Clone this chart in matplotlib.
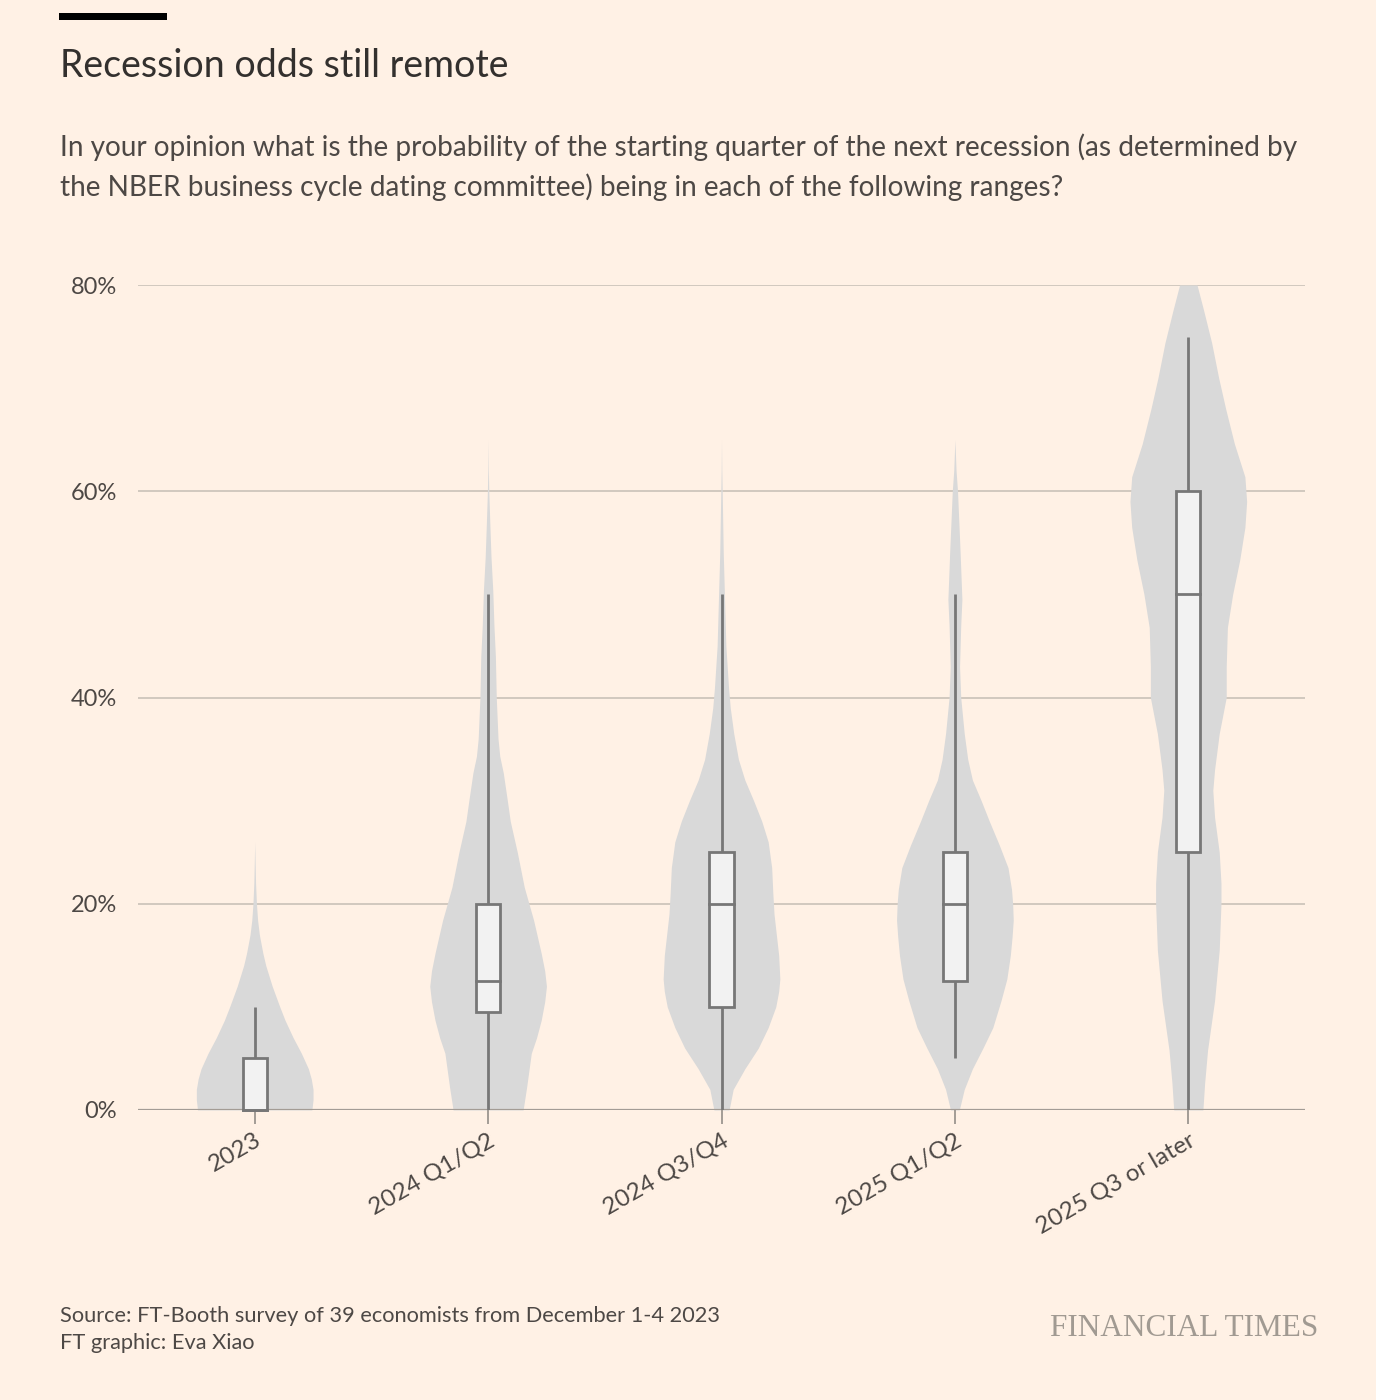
import numpy as np
import matplotlib
matplotlib.use("Agg")
import matplotlib.pyplot as plt
from matplotlib.patches import Rectangle

# categories and box stats (percent)
categories = ["2023", "2024 Q1/Q2", "2024 Q3/Q4", "2025 Q1/Q2", "2025 Q3 or later"]
whisker_lo = [0, 0, 0, 5, 0]
q1 = [0, 9.5, 10, 12.5, 25]
median = [0, 12.5, 20, 20, 50]
q3 = [5, 20, 25, 25, 60]
whisker_hi = [10, 50, 50, 50, 75]

# violin outlines: level (%) and relative density (0-1)
v2023_y = [0, 1, 2, 3, 4, 5.5, 7, 8.7, 10, 12, 14, 15.2, 17, 18.4, 20, 22, 24, 26]
v2023_d = [0.98, 1.0, 1.0, 0.97, 0.92, 0.8, 0.66, 0.52, 0.43, 0.3, 0.19, 0.14, 0.08, 0.05, 0.03, 0.015, 0.007, 0]

vq1_y = [0, 2.2, 5.5, 7, 8.7, 10.5, 12, 13.5, 15.2, 18.4, 21.6, 25, 28, 30, 32.7, 34.3, 36, 40, 44, 47, 50.4, 53.6, 56.8, 60, 62, 65]
vq1_d = [0.6, 0.66, 0.74, 0.83, 0.91, 0.97, 1.0, 0.97, 0.91, 0.78, 0.62, 0.5, 0.38, 0.33, 0.26, 0.2, 0.17, 0.14, 0.125, 0.1, 0.08, 0.05, 0.03, 0.012, 0.005, 0]

vq3_y = [0, 2, 4, 6, 8, 10, 11.5, 12.7, 15, 17, 19, 21, 23.5, 26, 28, 30, 32, 34, 36.5, 39, 41, 45, 50, 54, 60, 62, 65]
vq3_d = [0.13, 0.2, 0.4, 0.63, 0.8, 0.93, 0.98, 1.0, 0.98, 0.94, 0.9, 0.88, 0.86, 0.8, 0.69, 0.55, 0.4, 0.29, 0.21, 0.15, 0.12, 0.075, 0.05, 0.03, 0.012, 0.005, 0]

v25a_y = [0, 2, 4, 6, 8, 10.6, 12.7, 15, 16.8, 18.4, 20, 21.4, 23.5, 25.7, 28, 30, 32, 34, 36.5, 40, 43, 47, 49.5, 54, 60, 62, 65]
v25a_d = [0.075, 0.16, 0.3, 0.48, 0.65, 0.79, 0.89, 0.95, 0.98, 1.0, 0.99, 0.97, 0.91, 0.76, 0.59, 0.45, 0.3, 0.22, 0.16, 0.1, 0.08, 0.1, 0.12, 0.09, 0.045, 0.02, 0]

v25b_y = [0, 2.6, 5.8, 10.6, 15.5, 20, 22, 25, 28.4, 31, 33, 36.5, 40, 43, 46.8, 50, 53.3, 56.5, 59, 61.4, 64.6, 68, 71, 74.4, 77.6, 80]
v25b_d = [0.25, 0.28, 0.33, 0.45, 0.53, 0.56, 0.56, 0.53, 0.45, 0.42, 0.45, 0.53, 0.65, 0.65, 0.67, 0.76, 0.88, 0.97, 1.0, 0.97, 0.79, 0.64, 0.52, 0.4, 0.26, 0.15]

violins = [(v2023_y, v2023_d), (vq1_y, vq1_d), (vq3_y, vq3_d), (v25a_y, v25a_d), (v25b_y, v25b_d)]

yticks = [0, 20, 40, 60, 80]

BG = "#fff1e5"
VIOLIN = "#d9d9d9"
BOXFILL = "#f2f2f2"
EDGE = "#777777"
GRID = "#cec5bb"
BASE = "#a39c95"
TEXT = "#33302e"
SUB = "#4d4845"

plt.rcParams["font.family"] = ["Lato", "DejaVu Sans"]

W, H = 1376, 1400
fig = plt.figure(figsize=(W / 100, H / 100), dpi=100, facecolor=BG)


def fx(px):
    return px / W


def fy(py):
    return 1 - py / H


ax = fig.add_axes([fx(138), fy(1110), fx(1305) - fx(138), fy(285) - fy(1110)])
ax.set_facecolor(BG)
ax.set_xlim(-0.5, len(categories) - 0.5)
ax.set_ylim(0, 80)

for t in yticks[1:]:
    ax.axhline(t, color=GRID, lw=1.3, zorder=0)
ax.axhline(0, color=BASE, lw=1.6, zorder=1.5)

half_w = 0.25
box_w = 0.103
for i, (vy, vd) in enumerate(violins):
    vy = np.array(vy, dtype=float)
    vd = np.array(vd, dtype=float)
    ax.fill_betweenx(vy, i - half_w * vd, i + half_w * vd, color=VIOLIN, lw=0, zorder=1)
    ax.plot([i, i], [whisker_lo[i], q1[i]], color=EDGE, lw=2.0, zorder=2, solid_capstyle="butt")
    ax.plot([i, i], [q3[i], whisker_hi[i]], color=EDGE, lw=2.0, zorder=2, solid_capstyle="butt")
    ax.add_patch(Rectangle((i - box_w / 2, q1[i]), box_w, q3[i] - q1[i],
                           facecolor=BOXFILL, edgecolor=EDGE, lw=2.0, zorder=3, clip_on=False))
    ax.plot([i - box_w / 2, i + box_w / 2], [median[i], median[i]], color=EDGE, lw=2.0,
            zorder=3, clip_on=False)

for s in ax.spines.values():
    s.set_visible(False)

ax.set_yticks(yticks)
ax.set_yticklabels([f"{t}%" for t in yticks])
ax.tick_params(axis="y", length=0, pad=15, labelsize=17, labelcolor=SUB)
ax.set_xticks(range(len(categories)))
ax.set_xticklabels(categories, rotation=30, ha="right", rotation_mode="anchor")
ax.tick_params(axis="x", length=10, width=1.4, color=BASE, pad=4, labelsize=17.5, labelcolor=SUB)

# header
fig.patches.append(Rectangle((fx(59), fy(20)), fx(167) - fx(59), fy(13) - fy(20),
                             transform=fig.transFigure, facecolor="#000000", lw=0))
fig.text(fx(60), fy(77), "Recession odds still remote", fontsize=27, color=TEXT, va="baseline")
fig.text(fx(60), fy(156),
         "In your opinion what is the probability of the starting quarter of the next recession (as determined by",
         fontsize=20.2, color=SUB, va="baseline")
fig.text(fx(60), fy(196), "the NBER business cycle dating committee) being in each of the following ranges?",
         fontsize=20.2, color=SUB, va="baseline")

# footer
fig.text(fx(60), fy(1322), "Source: FT-Booth survey of 39 economists from December 1-4 2023",
         fontsize=15.7, color=SUB, va="baseline")
fig.text(fx(60), fy(1349), "FT graphic: Eva Xiao", fontsize=15.7, color=SUB, va="baseline")
fig.text(fx(1318), fy(1336), "FINANCIAL TIMES", fontsize=22.5, color="#a19a92", va="baseline", ha="right",
         family="Liberation Serif")

fig.savefig("out.png", dpi=100, facecolor=BG)
